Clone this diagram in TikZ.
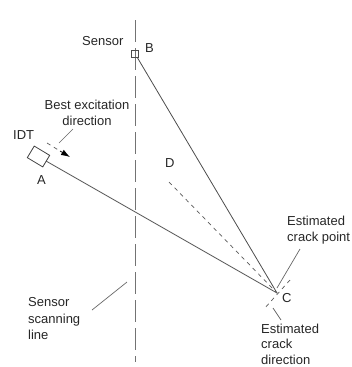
\documentclass[tikz,border=0pt]{standalone}
\usepackage{fontspec}
\setmainfont{Liberation Sans}
\usetikzlibrary{arrows.meta}
\tikzset{
  x=1pt,y=-1pt,
  lab/.style={inner sep=0pt,align=left,font=\fontsize{13}{16.3}\selectfont,text=black!85},
  ln/.style={draw=black!70,line width=0.8pt},
  lead/.style={draw=black!60,line width=0.7pt},
  dsh/.style={draw=black!65,line width=0.7pt,dash pattern=on 4pt off 4pt},
  scan/.style={draw=black!55,line width=0.6pt,dash pattern=on 22pt off 6pt}
}
\begin{document}
\begin{tikzpicture}
\useasboundingbox (0,0) rectangle (352,367);
\coordinate (scanT) at (135,20);
\coordinate (scanB) at (135,362);
\draw[scan] (scanT) -- (scanB);
% sensor and IDT
\node[draw=black!70,line width=0.6pt,minimum size=7pt,inner sep=0pt] (sensor) at (134.5,54) {};
\node[draw=black!75,line width=0.8pt,minimum width=18pt,minimum height=13.5pt,inner sep=0pt,rotate=-31] (idt) at (38.5,156.5) {};
\coordinate (C) at (277,293);
\coordinate (Bs) at (137,57);
\coordinate (As) at (46,161);
\draw[ln] (Bs) -- (C);
\draw[ln] (As) -- (C);
% dashed
\coordinate (D0) at (169,182);
\draw[dsh] (D0) -- (C);
\coordinate (cd1) at (290,280);
\coordinate (cd2) at (264,309);
\draw[dsh] (cd1) -- (cd2);
\coordinate (ex1) at (47,143);
\coordinate (ex2) at (60,151);
\coordinate (ex3) at (70,157);
\draw[dsh] (ex1) -- (ex2);
\draw[-{Latex[length=9pt,width=6pt]},draw=black,line width=0.7pt] (ex2) -- (ex3);
% labels
\node[lab,anchor=west] (sensorL) at (82,41) {Sensor};
\node[lab,anchor=west] (bL) at (145,48) {B};
\node[lab,align=center,anchor=north] (bestL) at (87,100) {Best excitation\\direction};
\node[lab,anchor=west] (idtL) at (13,135) {IDT};
\node[lab,anchor=west] (aL) at (37,180) {A};
\node[lab,anchor=west] (dL) at (165,163) {D};
\node[lab,anchor=north west] (ptL) at (287,216) {Estimated\\crack point};
\node[lab,anchor=west] (cL) at (282,298) {C};
\node[lab,anchor=north west,font=\fontsize{13}{15.5}\selectfont] (dirL) at (261,323.5) {Estimated\\crack\\direction};
\node[lab,anchor=north west] (scanL) at (28,297.5) {Sensor\\scanning\\line};
% leaders
\coordinate (l1a) at (73,129); \coordinate (l1b) at (59,143);
\draw[lead] (l1a) -- (l1b);
\coordinate (l2a) at (300,249); \coordinate (l2b) at (277,288);
\draw[lead] (l2a) -- (l2b);
\coordinate (l3a) at (273,308); \coordinate (l3b) at (281,320);
\draw[lead] (l3a) -- (l3b);
\coordinate (l4a) at (127,282); \coordinate (l4b) at (92,310);
\draw[lead] (l4a) -- (l4b);
\end{tikzpicture}
\end{document}
